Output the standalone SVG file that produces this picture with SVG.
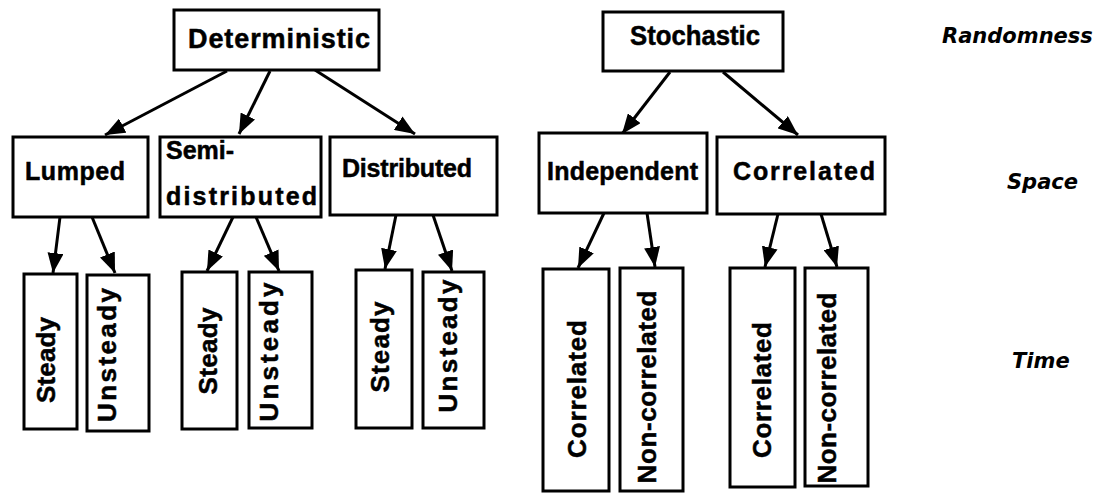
<svg xmlns="http://www.w3.org/2000/svg" width="1103" height="494" viewBox="0 0 1103 494">
  <style>
    .box { fill: #fff; stroke: #000; stroke-width: 3; }
    .lbl { font-family: "Liberation Sans", Arial, sans-serif; font-weight: bold; font-size: 25px; fill: #000; stroke: #000; stroke-width: 0.5; }
    .top { font-size: 27px; }
    .vert { font-size: 26px; text-anchor: middle; }
    .axis { font-family: "DejaVu Sans", sans-serif; font-weight: bold; font-style: italic; font-size: 21px; fill: #000; }
    .edge { stroke: #000; stroke-width: 3; fill: none; marker-end: url(#arrow); }
  </style>
  <defs>
    <marker id="arrow" viewBox="0 0 20 16" refX="20" refY="8" markerWidth="20" markerHeight="16" markerUnits="userSpaceOnUse" orient="auto">
      <path d="M0,0 L20,8 L0,16 z" fill="#000"/>
    </marker>
  </defs>

  <rect width="1103" height="494" fill="#fff"/>

  <!-- connectors -->
  <g id="connectors">
    <line class="edge" x1="227" y1="71" x2="105" y2="135"/>
    <line class="edge" x1="270" y1="71" x2="239" y2="134"/>
    <line class="edge" x1="315" y1="70" x2="415" y2="134"/>
    <line class="edge" x1="670" y1="72" x2="622" y2="134"/>
    <line class="edge" x1="723" y1="72" x2="798" y2="135"/>

    <line class="edge" x1="60" y1="217" x2="53" y2="273"/>
    <line class="edge" x1="92" y1="217" x2="115" y2="273"/>
    <line class="edge" x1="233" y1="217" x2="207" y2="271"/>
    <line class="edge" x1="256" y1="217" x2="279" y2="271"/>
    <line class="edge" x1="396" y1="215" x2="385" y2="269"/>
    <line class="edge" x1="433" y1="215" x2="452" y2="271"/>
    <line class="edge" x1="604" y1="213" x2="578" y2="268"/>
    <line class="edge" x1="647" y1="213" x2="655" y2="267"/>
    <line class="edge" x1="778" y1="214" x2="765" y2="267"/>
    <line class="edge" x1="821" y1="214" x2="837" y2="267"/>
  </g>

  <!-- randomness level -->
  <g id="deterministic">
    <rect class="box" x="174" y="10" width="205" height="60"/>
    <text class="lbl top" x="188" y="48" textLength="182" lengthAdjust="spacing">Deterministic</text>
  </g>
  <g id="stochastic">
    <rect class="box" x="603" y="12" width="180" height="59"/>
    <text class="lbl top" x="630" y="45" textLength="130" lengthAdjust="spacingAndGlyphs">Stochastic</text>
  </g>

  <!-- space level -->
  <g id="lumped">
    <rect class="box" x="13" y="137" width="135" height="80"/>
    <text class="lbl" x="25" y="180" textLength="100" lengthAdjust="spacing">Lumped</text>
  </g>
  <g id="semi-distributed">
    <rect class="box" x="160" y="137" width="161" height="80"/>
    <text class="lbl" x="166" y="159">Semi-</text>
    <text class="lbl" x="166" y="205" textLength="151" lengthAdjust="spacing">distributed</text>
  </g>
  <g id="distributed">
    <rect class="box" x="330" y="137" width="167" height="78"/>
    <text class="lbl" x="342" y="177" textLength="130" lengthAdjust="spacing">Distributed</text>
  </g>
  <g id="independent">
    <rect class="box" x="539" y="133" width="168" height="80"/>
    <text class="lbl" x="547" y="180" textLength="151" lengthAdjust="spacing">Independent</text>
  </g>
  <g id="correlated-space">
    <rect class="box" x="717" y="137" width="168" height="77"/>
    <text class="lbl" x="733" y="180" textLength="142" lengthAdjust="spacing">Correlated</text>
  </g>

  <!-- time level -->
  <g id="lumped-steady">
    <rect class="box" x="24" y="274" width="53" height="155"/>
    <text class="lbl vert" transform="translate(55,360) rotate(-90)" textLength="86" lengthAdjust="spacing">Steady</text>
  </g>
  <g id="lumped-unsteady">
    <rect class="box" x="87" y="275" width="62" height="156"/>
    <text class="lbl vert" transform="translate(116,355) rotate(-90)" textLength="134" lengthAdjust="spacing">Unsteady</text>
  </g>
  <g id="semi-steady">
    <rect class="box" x="182" y="272" width="55" height="157"/>
    <text class="lbl vert" transform="translate(217,351) rotate(-90)" textLength="87" lengthAdjust="spacing">Steady</text>
  </g>
  <g id="semi-unsteady">
    <rect class="box" x="249" y="272" width="63" height="156"/>
    <text class="lbl vert" transform="translate(278,352) rotate(-90)" textLength="139" lengthAdjust="spacing">Unsteady</text>
  </g>
  <g id="distributed-steady">
    <rect class="box" x="356" y="270" width="56" height="158"/>
    <text class="lbl vert" transform="translate(389,347) rotate(-90)" textLength="91" lengthAdjust="spacing">Steady</text>
  </g>
  <g id="distributed-unsteady">
    <rect class="box" x="423" y="272" width="61" height="156"/>
    <text class="lbl vert" transform="translate(457,346) rotate(-90)" textLength="133" lengthAdjust="spacing">Unsteady</text>
  </g>
  <g id="independent-correlated">
    <rect class="box" x="543" y="269" width="66" height="222"/>
    <text class="lbl vert" transform="translate(586,389) rotate(-90)" textLength="138" lengthAdjust="spacing">Correlated</text>
  </g>
  <g id="independent-noncorrelated">
    <rect class="box" x="620" y="268" width="63" height="223"/>
    <text class="lbl vert" transform="translate(656,387) rotate(-90)" textLength="193" lengthAdjust="spacing">Non-correlated</text>
  </g>
  <g id="correlated-correlated">
    <rect class="box" x="730" y="268" width="65" height="219"/>
    <text class="lbl vert" transform="translate(771,390) rotate(-90)" textLength="136" lengthAdjust="spacing">Correlated</text>
  </g>
  <g id="correlated-noncorrelated">
    <rect class="box" x="805" y="268" width="63" height="218"/>
    <text class="lbl vert" transform="translate(836,388) rotate(-90)" textLength="191" lengthAdjust="spacing">Non-correlated</text>
  </g>

  <!-- level captions -->
  <g id="levels">
    <text class="axis" x="942" y="43">Randomness</text>
    <text class="axis" x="1007" y="189">Space</text>
    <text class="axis" x="1012" y="368">Time</text>
  </g>
</svg>
